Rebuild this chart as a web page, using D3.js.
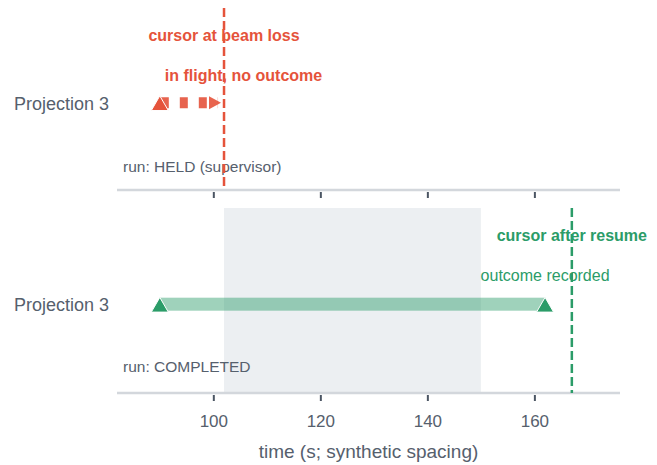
<!DOCTYPE html>
<html><head><meta charset="utf-8">
<script src="https://cdn.jsdelivr.net/npm/d3@7"></script>
<style>
html,body{margin:0;padding:0;background:#fff;}
text{font-family:"Liberation Sans",Arial,Helvetica,sans-serif;}
</style></head>
<body><svg id="c" width="657" height="465"></svg>
<script>
// ---- data ----
const rowLabels = ["Projection 3", "Projection 3"];
const runLabels = ["run: HELD (supervisor)", "run: COMPLETED"];
const startTimes = [90, 90];
const endTimes = [102, 162];
const completed = [false, true];
const cursorTimes = [102, 167];
const cursorLabels = ["cursor at beam loss", "cursor after resume"];
const statusLabels = ["in flight, no outcome", "outcome recorded"];
const pausedBand = [102, 150];
const xTicks = [100, 120, 140, 160];
const xDomain = [82, 176];
const xTitle = "time (s; synthetic spacing)";

// ---- style ----
const RED = "#e5533b", GREEN = "#2b9c68", TXT = "#56606d";
const left = 117, right = 620;
const panelTop = [8, 208], panelBottom = [190, 393];

const svg = d3.select("#c");
const x = d3.scaleLinear().domain(xDomain).range([left, right]);

// paused band (bottom panel)
svg.append("rect")
  .attr("x", x(pausedBand[0])).attr("y", panelTop[1])
  .attr("width", x(pausedBand[1]) - x(pausedBand[0]))
  .attr("height", panelBottom[1] - panelTop[1])
  .attr("fill", "#eceff2");

// axes
[0, 1].forEach(i => {
  const g = svg.append("g").attr("transform", `translate(0,${panelBottom[i]})`);
  const ax = d3.axisBottom(x).tickValues(xTicks).tickSize(7).tickPadding(15)
    .tickFormat(i === 1 ? d3.format("d") : () => "");
  g.call(ax);
  g.select(".domain").remove();
  g.insert("line", ":first-child").attr("x1", left).attr("x2", right)
    .attr("y1", 0).attr("y2", 0).attr("stroke", "#d3d7dc").attr("stroke-width", 2.5);
  g.selectAll(".tick line").attr("stroke", "#4b5563").attr("stroke-width", 2)
    .attr("y1", 2).attr("y2", 8);
  g.selectAll(".tick text").attr("fill", TXT).attr("font-size", 17)
    .attr("font-family", '"Liberation Sans",Arial,sans-serif');
});

svg.append("text").attr("x", (left + right) / 2).attr("y", 458)
  .attr("text-anchor", "middle").attr("fill", TXT).attr("font-size", 19).text(xTitle);

const tri = d3.symbol().type(d3.symbolTriangle).size(125);

[0, 1].forEach(i => {
  const top = panelTop[i], h = panelBottom[i] - panelTop[i];
  const rowY = top + 0.52 * h;
  const col = completed[i] ? GREEN : RED;

  // row label
  svg.append("text").attr("x", 109).attr("y", rowY + 7).attr("text-anchor", "end")
    .attr("fill", TXT).attr("font-size", 18).text(rowLabels[i]);
  // run label
  svg.append("text").attr("x", 123).attr("y", top + 163.5)
    .attr("fill", TXT).attr("font-size", 15.5).text(runLabels[i]);

  if (completed[i]) {
    svg.append("rect").attr("x", x(startTimes[i])).attr("y", rowY - 6.5)
      .attr("width", x(endTimes[i]) - x(startTimes[i])).attr("height", 13)
      .attr("fill", GREEN).attr("fill-opacity", 0.45);
    [startTimes[i], endTimes[i]].forEach(t => {
      svg.append("path").attr("d", tri)
        .attr("transform", `translate(${x(t)},${rowY + 3})`)
        .attr("fill", GREEN).attr("stroke", "#fff").attr("stroke-width", 1);
    });
  } else {
    svg.append("line").attr("x1", x(startTimes[i]) + 1).attr("x2", x(endTimes[i]) - 6)
      .attr("y1", rowY).attr("y2", rowY)
      .attr("stroke", col).attr("stroke-width", 11).attr("stroke-dasharray", "8,11")
      .attr("opacity", 0.9);
    const tipX = x(endTimes[i]) - 3;
    svg.append("path")
      .attr("d", `M${tipX},${rowY}L${tipX - 12},${rowY - 6.5}L${tipX - 12},${rowY + 6.5}Z`)
      .attr("fill", col).attr("opacity", 0.9);
    svg.append("path").attr("d", tri)
      .attr("transform", `translate(${x(startTimes[i])},${rowY + 3})`)
      .attr("fill", col).attr("stroke", "#fff").attr("stroke-width", 1);
  }

  // cursor
  svg.append("line").attr("x1", x(cursorTimes[i])).attr("x2", x(cursorTimes[i]))
    .attr("y1", top).attr("y2", panelBottom[i])
    .attr("stroke", col).attr("stroke-width", 2.5).attr("stroke-dasharray", "9,4");

  svg.append("text").attr("x", x(cursorTimes[i])).attr("y", top + 32.5)
    .attr("text-anchor", "middle").attr("fill", col).attr("font-size", 16)
    .attr("font-weight", "bold").text(cursorLabels[i]);
  svg.append("text").attr("x", completed[i] ? x(endTimes[i]) : x(endTimes[i]) + 19.5).attr("y", top + 72.5)
    .attr("text-anchor", "middle").attr("fill", col).attr("font-size", 16)
    .attr("font-weight", completed[i] ? "normal" : "bold").text(statusLabels[i]);
});
</script></body></html>
